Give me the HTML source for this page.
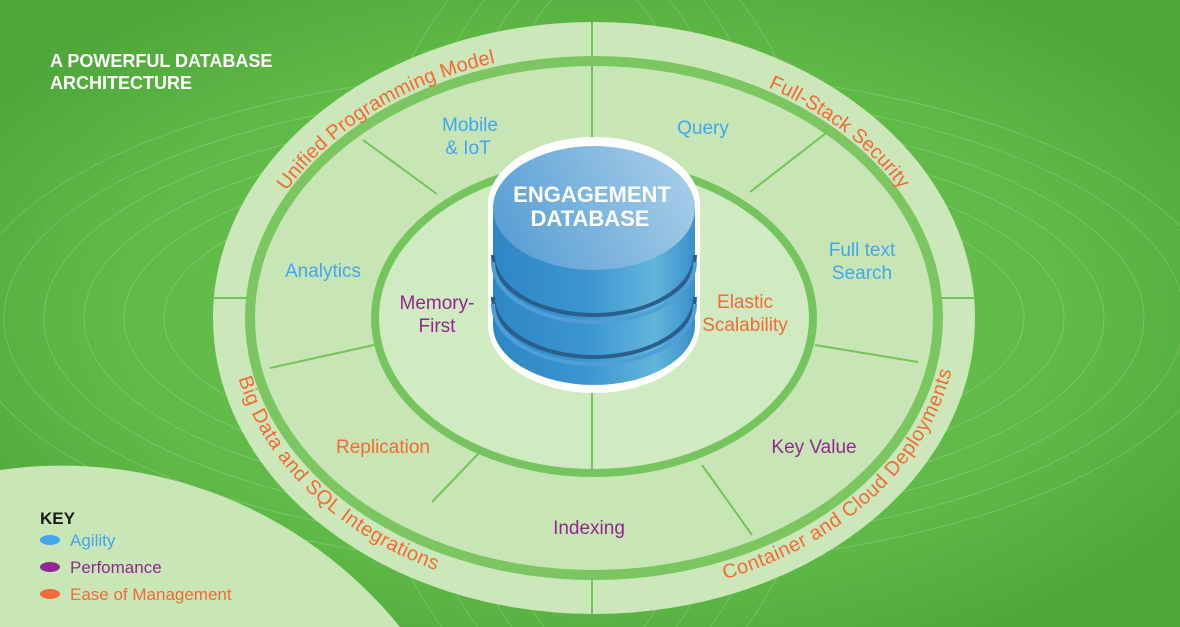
<!DOCTYPE html>
<html><head><meta charset="utf-8"><style>
html,body{margin:0;padding:0;width:1180px;height:627px;overflow:hidden;background:#5cb744}
svg{display:block}
text{font-family:"Liberation Sans",sans-serif}
</style></head><body>
<svg width="1180" height="627" viewBox="0 0 1180 627" xmlns="http://www.w3.org/2000/svg" style="position:absolute;left:0;top:0">
<defs>
<radialGradient id="bg" cx="50%" cy="50%" r="60%">
<stop offset="0" stop-color="#72c659"/><stop offset="0.7" stop-color="#5fb946"/><stop offset="1" stop-color="#4fa83a"/>
</radialGradient>
<linearGradient id="body" x1="0" x2="1" y1="0" y2="0">
<stop offset="0" stop-color="#2f86c6"/><stop offset="0.45" stop-color="#3a95cf"/><stop offset="0.8" stop-color="#62b5da"/><stop offset="1" stop-color="#3a8fcb"/>
</linearGradient>
<linearGradient id="top" x1="0" x2="1" y1="0.6" y2="0.3">
<stop offset="0" stop-color="#5a9fd4"/><stop offset="1" stop-color="#a6cde8"/>
</linearGradient>
<path id="topArc" d="M 237 318 A 357 273 0 0 1 951 318"/>
<path id="botArc" d="M 237 318 A 357 273 0 0 0 951 318"/>
</defs>
<rect width="1180" height="627" fill="url(#bg)"/>
<g fill="none" stroke="#ffffff" stroke-opacity="0.18" stroke-width="1">
<ellipse cx="594" cy="318" rx="430" ry="150"/><ellipse cx="594" cy="318" rx="470" ry="170"/>
<ellipse cx="594" cy="318" rx="510" ry="190"/><ellipse cx="594" cy="318" rx="550" ry="210"/>
<ellipse cx="594" cy="318" rx="590" ry="230"/><ellipse cx="594" cy="318" rx="630" ry="250"/>
<ellipse cx="594" cy="318" rx="120" ry="340"/><ellipse cx="594" cy="318" rx="160" ry="360"/>
<ellipse cx="594" cy="318" rx="200" ry="380"/><ellipse cx="594" cy="318" rx="240" ry="400"/>
</g>
<path d="M 0 470 A 435 435 0 0 1 400 627 L 0 627 Z" fill="#c8e6b6"/>
<!-- rings -->
<ellipse cx="594" cy="318" rx="381" ry="296" fill="#cce8bb"/>
<ellipse cx="594" cy="318" rx="349" ry="262" fill="#7cc662"/>
<ellipse cx="594" cy="318" rx="339" ry="252" fill="#c8e6b5"/>
<ellipse cx="594" cy="318" rx="223" ry="159" fill="#76c45d"/>
<ellipse cx="594" cy="318" rx="215" ry="151" fill="#d0eac1"/>
<g stroke="#74c25a" stroke-width="2">
<line x1="592" y1="22" x2="592" y2="58"/><line x1="592" y1="66" x2="592" y2="160"/>
<line x1="592" y1="392" x2="592" y2="472"/><line x1="592" y1="578" x2="592" y2="614"/>
<line x1="213" y1="298" x2="247" y2="298"/><line x1="941" y1="298" x2="975" y2="298"/>
<line x1="363" y1="140" x2="437" y2="194"/><line x1="270" y1="368" x2="374" y2="345"/>
<line x1="432" y1="502" x2="480" y2="452"/><line x1="750" y1="192" x2="830" y2="130"/>
<line x1="815" y1="345" x2="918" y2="362"/><line x1="702" y1="465" x2="752" y2="535"/>
</g>
<!-- curved labels -->
<g font-size="20" fill="#f26a36" letter-spacing="0.3">
<text dy="7" text-anchor="middle"><textPath href="#topArc" startOffset="27%">Unified Programming Model</textPath></text>
<text dy="7" text-anchor="middle"><textPath href="#topArc" startOffset="77%">Full-Stack Security</textPath></text>
<text dy="7" text-anchor="middle"><textPath href="#botArc" startOffset="20%">Big Data and SQL Integrations</textPath></text>
<text dy="7" text-anchor="middle"><textPath href="#botArc" startOffset="79%">Container and Cloud Deployments</textPath></text>
</g>
<!-- cylinder -->
<path d="M 488 205 A 106 68 0 0 1 700 205 L 700 325 A 106 68 0 0 1 488 325 Z" fill="#ffffff"/>
<path d="M 493 210 L 493 325 A 101 60 0 0 0 695 325 L 695 210 Z" fill="url(#body)"/>
<path d="M 493 255 A 101 60 0 0 0 695 255" fill="none" stroke="#285f8c" stroke-width="4"/>
<path d="M 493 262 A 101 60 0 0 0 695 262" fill="none" stroke="#4f9fd6" stroke-width="4"/>
<path d="M 493 297 A 101 60 0 0 0 695 297" fill="none" stroke="#285f8c" stroke-width="4"/>
<path d="M 493 304 A 101 60 0 0 0 695 304" fill="none" stroke="#4f9fd6" stroke-width="4"/>
<ellipse cx="594" cy="208" rx="101" ry="62" fill="url(#top)"/>
<g font-size="22" font-weight="bold" fill="#fff" text-anchor="middle">
<text x="592" y="202">ENGAGEMENT</text><text x="590" y="226">DATABASE</text>
</g>
<!-- labels -->
<g font-size="19" text-anchor="middle">
<g fill="#42a6ee">
<text x="470" y="131">Mobile</text><text x="468" y="154">&amp; IoT</text>
<text x="703" y="134">Query</text>
<text x="323" y="277">Analytics</text>
<text x="862" y="256">Full text</text><text x="862" y="279">Search</text>
</g>
<g fill="#93278f">
<text x="437" y="309">Memory-</text><text x="437" y="332">First</text>
<text x="814" y="453">Key Value</text>
<text x="589" y="534">Indexing</text>
</g>
<g fill="#f26a36">
<text x="745" y="308">Elastic</text><text x="745" y="331">Scalability</text>
<text x="383" y="453">Replication</text>
</g>
</g>
<g font-size="18" font-weight="bold" fill="#fff">
<text x="50" y="67">A POWERFUL DATABASE</text><text x="50" y="89">ARCHITECTURE</text>
</g>
<text x="40" y="524" font-size="17" font-weight="bold" fill="#1a1a1a">KEY</text>
<ellipse cx="50" cy="540" rx="10" ry="5" fill="#42a6ee"/>
<ellipse cx="50" cy="567" rx="10" ry="5" fill="#93278f"/>
<ellipse cx="50" cy="594" rx="10" ry="5" fill="#f26a36"/>
<g font-size="17">
<text x="70" y="546" fill="#42a6ee">Agility</text>
<text x="70" y="573" fill="#93278f">Perfomance</text>
<text x="70" y="600" fill="#f26a36">Ease of Management</text>
</g>
</svg>
</body></html>
